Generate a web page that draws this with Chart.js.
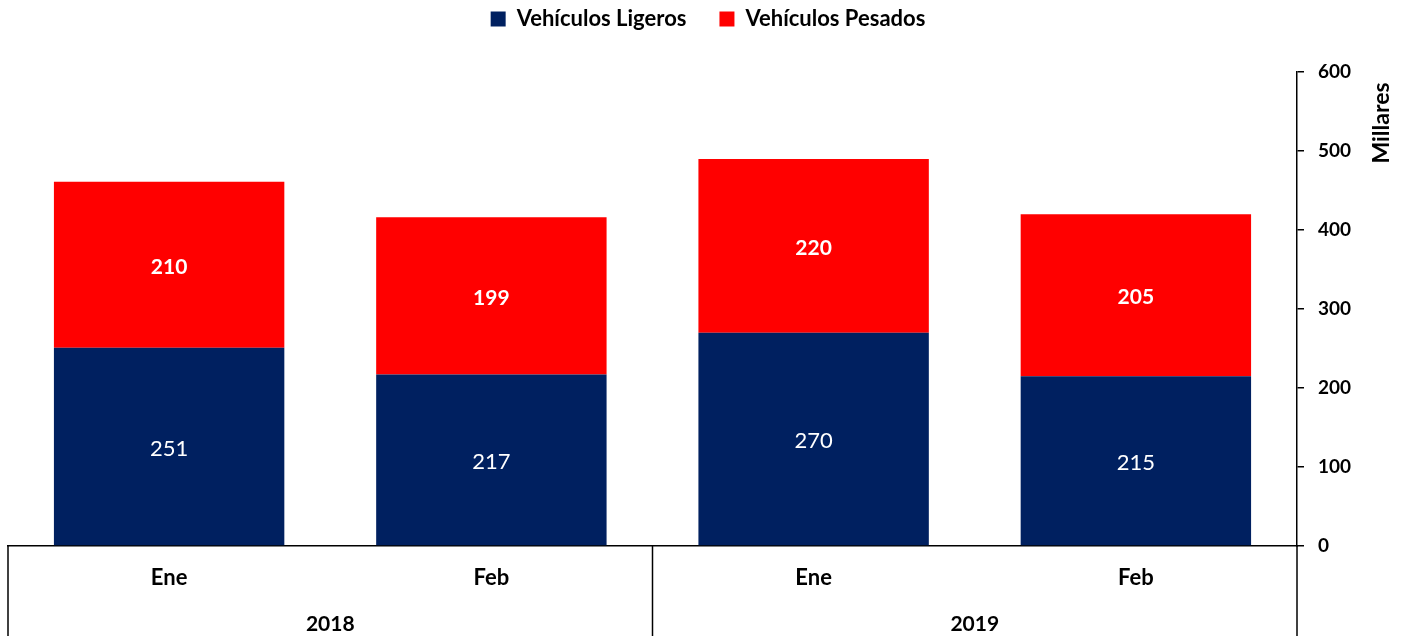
<!DOCTYPE html>
<html>
<head>
<meta charset="utf-8">
<script src="https://cdn.jsdelivr.net/npm/chart.js@4.4.1/dist/chart.umd.min.js"></script>
<style>
html,body{margin:0;padding:0;background:#fff;}
#wrap{width:1408px;height:636px;position:relative;}
</style>
</head>
<body>
<div id="wrap"><canvas id="c"></canvas></div>
<script>
const months = ['Ene', 'Feb', 'Ene', 'Feb'];
const years = ['2018', '2018', '2019', '2019'];
const ligeros = [251, 217, 270, 215];
const pesados = [210, 199, 220, 205];
const yTicks = [0, 100, 200, 300, 400, 500, 600];
const axisTitle = 'Millares';
const seriesNames = ['Vehículos Ligeros', 'Vehículos Pesados'];

const FONT = 'Lato, "Open Sans", sans-serif';
const LEGEND_FONT = 22;
const LEGEND_PAD = 33;
const LEGEND_CENTER_Y = 19;

const valueLabels = {
  id: 'valueLabels',
  afterDatasetsDraw(chart) {
    const ctx = chart.ctx;
    ctx.save();
    ctx.textAlign = 'center';
    ctx.textBaseline = 'middle';
    ctx.fillStyle = '#fff';
    chart.data.datasets.forEach((ds, di) => {
      const meta = chart.getDatasetMeta(di);
      ctx.font = (di === 1 ? 'bold 21px ' : '22px ') + FONT;
      meta.data.forEach((el, i) => {
        const yc = (el.y + el.base) / 2;
        ctx.fillText(String(ds.data[i]), el.x, yc + 2);
      });
    });
    ctx.restore();
  }
};

const legendShift = {
  id: 'legendShift',
  afterLayout(chart) {
    const lg = chart.legend;
    if (!lg) return;
    const h = lg.height;
    lg.top = LEGEND_CENTER_Y - LEGEND_PAD - LEGEND_FONT / 2;
    lg.bottom = lg.top + h;
  }
};

const decor = {
  id: 'decor',
  afterDraw(chart) {
    const ctx = chart.ctx;
    const {left, right, bottom} = chart.chartArea;
    const xs = chart.scales.x;
    const H = chart.height;
    ctx.save();
    ctx.strokeStyle = '#000';
    ctx.lineWidth = 1.5;
    const bounds = [left];
    const groupCenters = [];
    let start = 0;
    for (let i = 1; i <= years.length; i++) {
      if (i === years.length || years[i] !== years[start]) {
        const a = start === 0 ? left : (xs.getPixelForValue(start - 1) + xs.getPixelForValue(start)) / 2;
        const b = i === years.length ? right : (xs.getPixelForValue(i - 1) + xs.getPixelForValue(i)) / 2;
        groupCenters.push({label: years[start], x: (a + b) / 2});
        bounds.push(b);
        start = i;
      }
    }
    bounds.forEach(px => {
      ctx.beginPath();
      ctx.moveTo(px, bottom);
      ctx.lineTo(px, H);
      ctx.stroke();
    });
    ctx.fillStyle = '#000';
    ctx.font = 'bold 21px ' + FONT;
    ctx.textAlign = 'center';
    ctx.textBaseline = 'middle';
    groupCenters.forEach(g => ctx.fillText(g.label, g.x, 624));
    ctx.font = 'bold 23px ' + FONT;
    ctx.translate(1382, 123);
    ctx.rotate(-Math.PI / 2);
    ctx.fillText(axisTitle, 0, 0);
    ctx.restore();
  }
};

new Chart(document.getElementById('c'), {
  type: 'bar',
  data: {
    labels: months,
    datasets: [
      {label: seriesNames[0], data: ligeros, backgroundColor: '#002060', borderWidth: 0},
      {label: seriesNames[1], data: pesados, backgroundColor: '#FF0000', borderWidth: 0}
    ]
  },
  options: {
    responsive: true,
    maintainAspectRatio: false,
    animation: false,
    layout: {padding: {left: 8, top: 7, right: 0, bottom: 0}},
    datasets: {bar: {barPercentage: 1, categoryPercentage: 0.715}},
    plugins: {
      legend: {
        display: true,
        position: 'top',
        labels: {
          color: '#000',
          font: {family: FONT, size: LEGEND_FONT, weight: 'bold'},
          boxWidth: 15,
          boxHeight: 15,
          padding: LEGEND_PAD
        }
      },
      tooltip: {enabled: false}
    },
    scales: {
      x: {
        stacked: true,
        grid: {display: false, drawTicks: false},
        border: {display: true, color: '#000', width: 1.5},
        ticks: {color: '#000', font: {family: FONT, size: 22, weight: 'bold'}, padding: 19},
        afterFit(s) { s.height = 90; }
      },
      y: {
        stacked: true,
        position: 'right',
        min: 0,
        max: 600,
        afterBuildTicks(s) { s.ticks = yTicks.map(v => ({value: v})); },
        grid: {display: true, drawOnChartArea: false, drawTicks: true, tickLength: 7, color: '#000', lineWidth: 1.5},
        border: {display: true, color: '#000', width: 1.5},
        ticks: {color: '#000', font: {family: FONT, size: 19, weight: 'bold'}, padding: 14},
        afterFit(s) { s.width = 111; }
      }
    }
  },
  plugins: [legendShift, valueLabels, decor]
});
</script>
</body>
</html>
